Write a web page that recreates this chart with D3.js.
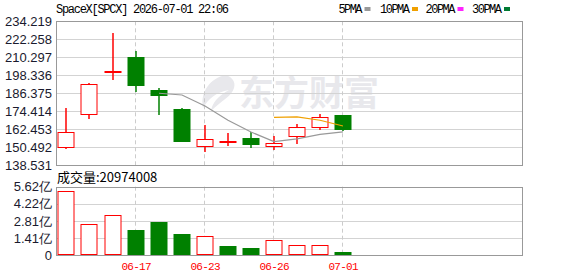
<!DOCTYPE html>
<html>
<head>
<meta charset="utf-8">
<script src="https://cdn.jsdelivr.net/npm/d3@7"></script>
<style>
  body { margin: 0; background: #fff; }
  svg { display: block; }
</style>
</head>
<body>
<svg id="chart" width="578" height="276"></svg>
<script>
// daily bars
var dates  = ["06-12","06-15","06-16","06-17","06-18","06-22","06-23","06-24","06-25","06-26","06-29","06-30","07-01"];
var opens  = [150.32, 172.29, 200.60, 210.45, 188.47, 175.82, 150.98, 154.31, 156.51, 151.18, 157.64, 163.83, 171.83];
var closes = [160.31, 192.47, 201.40, 191.99, 185.34, 154.51, 155.64, 154.31, 152.72, 153.38, 163.64, 170.49, 162.70];
var highs  = [176.49, 193.13, 226.43, 214.44, 189.80, 176.49, 165.37, 159.84, 160.50, 158.04, 165.83, 172.69, 171.83];
var lows   = [149.39, 168.96, 195.33, 187.34, 172.03, 153.85, 147.01, 150.98, 149.85, 148.52, 152.31, 161.84, 161.17];
var volumes = [5.24e8, 2.53e8, 3.27e8, 2.06e8, 2.72e8, 1.73e8, 1.56e8, 0.74e8, 0.58e8, 1.21e8, 0.80e8, 0.80e8, 20974008];

var priceTicks = [138.531, 150.492, 162.453, 174.414, 186.375, 198.336, 210.297, 222.258, 234.219];
var volTicks = [0, 1.41e8, 2.81e8, 4.22e8, 5.62e8];
var volTickLabels = ["0", "1.41亿", "2.81亿", "4.22亿", "5.62亿"];
var dateLabels = ["06-17", "06-23", "06-26", "07-01"];
var maNames = ["5PMA", "10PMA", "20PMA", "30PMA"];
var maColors = ["#999999", "#f0a000", "#ff22ff", "#007a33"];

var svg = d3.select("#chart");
var left = 56, right = 522.5;
var main = {top: 21.3, bottom: 165};
var vol = {top: 186.7, bottom: 255};
var up = "#ff0000", down = "#008000";

var x = d3.scaleBand()
    .domain(d3.range(20))
    .range([54.8, 54.8 + 20 * 23.08])
    .paddingInner(0.3)
    .paddingOuter(0.15);
var cx = function(i) { return Math.round(x(i) + x.bandwidth() / 2) + 0.5; };
var bw = 16;

var y = d3.scaleLinear().domain([138.531, 234.219]).range([main.bottom, main.top]);
var yv = d3.scaleLinear().domain([0, 5.62e8]).range([vol.bottom, vol.top]);
var py = function(v) { return Math.round(y(v)) + 0.5; };

var data = dates.map(function(d, i) {
    return {i: i, date: d, open: opens[i], close: closes[i], high: highs[i], low: lows[i], vol: volumes[i],
            prev: i > 0 ? closes[i - 1] : opens[i]};
});

// title + legend
svg.append("text")
    .attr("x", 56).attr("y", 13)
    .attr("font-family", "Liberation Mono, monospace")
    .attr("font-size", 12)
    .attr("textLength", 173)
    .attr("fill", "#000")
    .text("SpaceX[SPCX] 2026-07-01 22:06");

var legX = [338.5, 380, 425.5, 472];
maNames.forEach(function(n, k) {
    var tw = n.length * 6;
    svg.append("text")
        .attr("x", legX[k]).attr("y", 13)
        .attr("font-family", "Liberation Mono, monospace")
        .attr("font-size", 12)
        .attr("textLength", tw)
        .attr("fill", "#000")
        .text(n);
    svg.append("rect")
        .attr("x", legX[k] + tw + 2).attr("y", 7)
        .attr("width", 6).attr("height", 4)
        .attr("fill", maColors[k]);
});

// watermark
var wm = svg.append("g").attr("fill", "#e8e8ec");
wm.append("path")
    .attr("d", "M226,75 C210,78 200,92 203,108 C208,99 216,92 229,90 C218,96 212,103 211,111 C222,100 232,96 234,88 C236,82 232,77 226,75 Z");
wm.append("text")
    .attr("x", 239).attr("y", 106)
    .attr("font-family", "Noto Sans CJK SC, sans-serif")
    .attr("font-weight", "bold")
    .attr("font-size", 35)
    .attr("textLength", 140)
    .text("东方财富");

// grids
function grid(g, ticks, scale) {
    g.selectAll("line.h").data(ticks).enter().append("line")
        .attr("x1", left).attr("x2", right)
        .attr("y1", function(d) { return Math.round(scale(d)) + 0.5; })
        .attr("y2", function(d) { return Math.round(scale(d)) + 0.5; })
        .attr("stroke", "#d3d3d3");
}
grid(svg.append("g"), priceTicks, y);
grid(svg.append("g"), volTicks, yv);

var labelIdx = data.filter(function(d) { return dateLabels.indexOf(d.date) >= 0; });
[main, vol].forEach(function(p) {
    svg.append("g").selectAll("line").data(labelIdx).enter().append("line")
        .attr("x1", function(d) { return cx(d.i) - 1; })
        .attr("x2", function(d) { return cx(d.i) - 1; })
        .attr("y1", p.top).attr("y2", p.bottom)
        .attr("stroke", "#cccccc")
        .attr("stroke-dasharray", "4,3");
});

// frames
[main, vol].forEach(function(p) {
    svg.append("rect")
        .attr("x", left + 0.5).attr("y", Math.round(p.top) + 0.5)
        .attr("width", right - left - 0.5)
        .attr("height", Math.round(p.bottom) - Math.round(p.top))
        .attr("fill", "none")
        .attr("stroke", "#999");
});

// y axis labels
svg.append("g").selectAll("text").data(priceTicks).enter().append("text")
    .attr("x", 52).attr("y", function(d) { return y(d); })
    .attr("dy", "0.36em")
    .attr("text-anchor", "end")
    .attr("font-family", "Liberation Sans, Arial, sans-serif")
    .attr("font-size", 13)
    .attr("fill", "#1a1a2e")
    .text(function(d) { return d3.format(".3f")(d); });

svg.append("g").selectAll("text").data(volTicks).enter().append("text")
    .attr("x", 52).attr("y", function(d) { return yv(d); })
    .attr("dy", "0.36em")
    .attr("text-anchor", "end")
    .attr("font-family", "Liberation Sans, Arial, sans-serif")
    .attr("font-size", 13)
    .attr("fill", "#1a1a2e")
    .text(function(d, i) { return volTickLabels[i]; });

svg.append("text")
    .attr("x", 57).attr("y", 182)
    .attr("font-family", "Noto Sans CJK SC, sans-serif")
    .attr("font-size", 13)
    .attr("fill", "#000")
    .text("成交量:" + volumes[volumes.length - 1]);

// date labels
svg.append("g").selectAll("text").data(labelIdx).enter().append("text")
    .attr("x", function(d) { return cx(d.i); })
    .attr("y", 270)
    .attr("text-anchor", "middle")
    .attr("font-family", "Liberation Mono, monospace")
    .attr("font-size", 11)
    .attr("textLength", 30)
    .attr("fill", "#ff0000")
    .text(function(d) { return d.date; });

// candles
var candles = svg.append("g").selectAll("g").data(data).enter().append("g");
candles.append("line")
    .attr("x1", function(d) { return cx(d.i) - 0.5; })
    .attr("x2", function(d) { return cx(d.i) - 0.5; })
    .attr("y1", function(d) { return Math.round(y(d.high)); })
    .attr("y2", function(d) { return Math.round(y(d.low)); })
    .attr("stroke", function(d) { return d.close >= d.open ? up : down; })
    .attr("stroke-width", 1.5);
candles.append("rect")
    .attr("x", function(d) { return cx(d.i) - bw / 2 - 0.5; })
    .attr("y", function(d) { return py(Math.max(d.open, d.close)); })
    .attr("width", bw)
    .attr("height", function(d) { return Math.max(1, py(Math.min(d.open, d.close)) - py(Math.max(d.open, d.close))); })
    .attr("fill", function(d) { return d.close > d.open ? "#fff" : (d.close == d.open ? up : down); })
    .attr("stroke", function(d) { return d.close >= d.open ? up : down; })
    .attr("stroke-width", 1);

// moving averages
function ma(n) {
    return data.map(function(d, i) {
        if (i < n - 1) return null;
        return {i: i, v: d3.mean(closes.slice(i - n + 1, i + 1))};
    }).filter(function(d) { return d; });
}
var line = d3.line()
    .x(function(d) { return cx(d.i) - 0.5; })
    .y(function(d) { return y(d.v); });
[5, 10, 20, 30].forEach(function(n, k) {
    var pts = ma(n);
    if (pts.length < 2) return;
    svg.append("path")
        .datum(pts)
        .attr("d", line)
        .attr("fill", "none")
        .attr("stroke", maColors[k])
        .attr("stroke-width", 1.2);
});

// volume bars: coloured against the previous close
svg.append("g").selectAll("rect").data(data).enter().append("rect")
    .attr("x", function(d) { return cx(d.i) - bw / 2 - 0.5; })
    .attr("y", function(d) { return Math.round(yv(d.vol)) + 0.5; })
    .attr("width", bw)
    .attr("height", function(d) { return Math.max(1, Math.round(vol.bottom) - Math.round(yv(d.vol)) - 1); })
    .attr("fill", function(d) { return d.close > d.prev ? "#fff" : down; })
    .attr("stroke", function(d) { return d.close > d.prev ? up : down; })
    .attr("stroke-width", 1);
</script>
</body>
</html>
